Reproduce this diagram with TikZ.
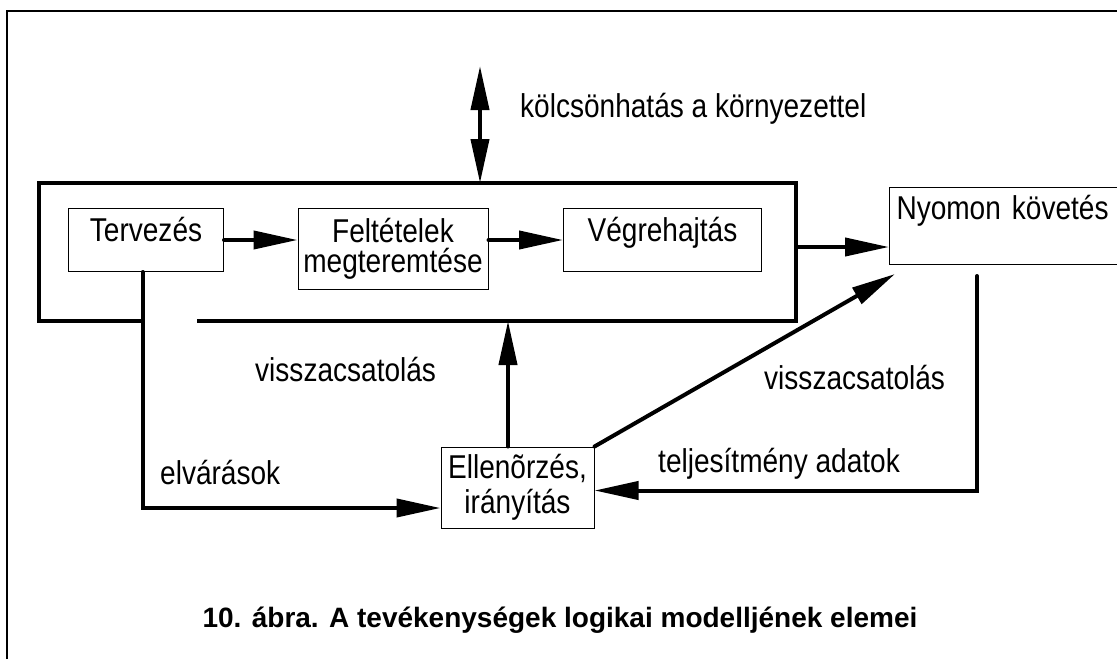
\documentclass[tikz,border=0pt]{standalone}
\usepackage{fontspec}
\setmainfont{Liberation Sans}
\newfontfamily\keskeny[FakeStretch=0.85]{Liberation Sans}
\usetikzlibrary{arrows.meta,calc}
\def\hegy{Triangle[length=44pt,width=18pt]}

\begin{document}
\begin{tikzpicture}[x=1pt,y=-1pt,
		doboz/.style={draw,line width=1pt,inner sep=0pt,font=\keskeny\fontsize{33}{30}\selectfont},
		felirat/.style={inner sep=0pt,font=\keskeny\fontsize{33}{30}\selectfont},
		vastag/.style={line width=4pt,line cap=round},
		nyil/.style={vastag,-{\hegy}}]
			%%%%% START %%%%%
			\useasboundingbox (0,0) rectangle (1117,659);
			
			\draw[line width=2.5pt] (7,659) -- (7,11) -- (1117,11);
			
			\coordinate (kozeg) at (480,66);
			\coordinate (teto) at (480,183);
			\coordinate (also) at (197,321);
			\coordinate (kimenet) at (796,247);
			
			\draw[line width=4pt] (142,321) -- (39,321) -- (39,183) -- (796,183) -- (796,321) -- (also);
			\draw[vastag,{\hegy}-{\hegy}] (kozeg) -- (teto);
			
			\node[doboz,anchor=north west,minimum width=155pt,text height=33pt,text depth=30pt] (tervezes) at (68,208) {Tervezés};
			\node[doboz,minimum width=190pt,minimum height=81pt,align=center] (feltetelek) at (393,248.5) {Feltételek\\megteremtése};
			\node[doboz,anchor=north west,minimum width=198pt,text height=33pt,text depth=30pt] (vegrehajtas) at (563,208) {Végrehajtás};
			\node[doboz,anchor=north west,text width=226pt,inner xsep=7pt,align=left,text height=32pt,text depth=45pt] (nyomon) at (889,187) {Nyomon követés};
			\node[doboz,minimum width=153pt,minimum height=81pt,align=center] (ellenorzes) at (517.5,487.5) {Ellenõrzés,\\[5pt]irányítás};
			
			\draw[nyil] (tervezes.east) -- (tervezes.east -| feltetelek.west);
			\draw[nyil] (feltetelek.east |- vegrehajtas.west) -- (vegrehajtas.west);
			\draw[nyil] (kimenet) -- (kimenet -| nyomon.west);
			\draw[nyil] ([xshift=-3.5pt]tervezes.south) |- ([yshift=-20.5pt]ellenorzes.west);
			\draw[nyil] ([xshift=-9.5pt]ellenorzes.north) -- ([xshift=-9.5pt]ellenorzes.north |- also);
			\draw[nyil] (ellenorzes.north east) -- ([shift={(6pt,-9pt)}]nyomon.south west);
			\draw[nyil] ($(nyomon.south west)+(88,11)$) |- ([yshift=-3pt]ellenorzes.east);
			
			\node[felirat,anchor=base west] (kolcsonhatas) at (520,117) {kölcsönhatás a környezettel};
			\node[felirat,anchor=base west] (vissza1) at (255,381) {visszacsatolás};
			\node[felirat,anchor=base west] (vissza2) at (764,389) {visszacsatolás};
			\node[felirat,anchor=base west] (elvarasok) at (160,484) {elvárások};
			\node[felirat,anchor=base west] (teljesitmeny) at (658,472) {teljesítmény adatok};
			
			\node[inner sep=0pt,anchor=base,font=\bfseries\fontsize{28}{30}\selectfont] (cim) at (560,627) {10. ábra. A tevékenységek logikai modelljének elemei};
			%%%%% END %%%%%
\end{tikzpicture}
\end{document}
